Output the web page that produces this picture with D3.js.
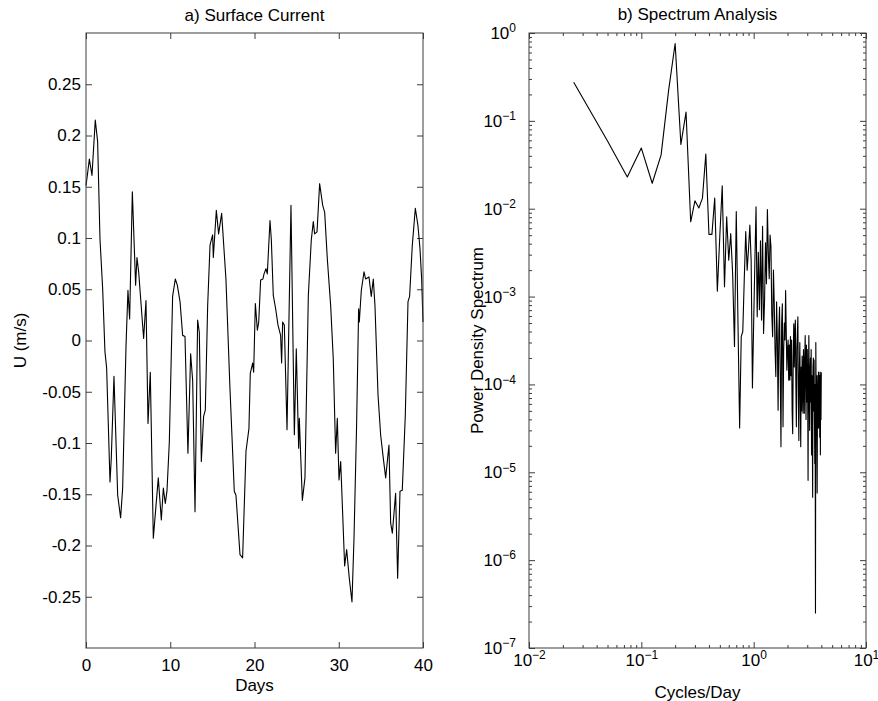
<!DOCTYPE html>
<html>
<head>
<meta charset="utf-8">
<script src="https://cdn.jsdelivr.net/npm/d3@7"></script>
<style>
  body { margin: 0; background: #fff; }
  svg { font-family: "Liberation Sans", Arial, Helvetica, sans-serif; }
  .frame { fill: none; stroke: #3c3c3c; stroke-width: 1; }
  .axis path { display: none; }
  .axis line { stroke: #3c3c3c; }
  .axis text { font-size: 17px; fill: #000; }
  .trace { fill: none; stroke: #000; stroke-width: 1.1; stroke-linejoin: round; }
  .title, .label { font-size: 17px; fill: #000; }
</style>
</head>
<body>
<script>

// a) surface current
var days = [0, 0.4, 0.71, 1.1, 1.38, 1.66, 1.98, 2.25, 2.45, 2.85,
  3.0, 3.32, 3.76, 4.11, 4.35, 4.75, 4.98, 5.18, 5.5, 5.89,
  6.05, 6.25, 6.84, 7.12, 7.36, 7.63, 7.99, 8.27, 8.58, 8.94,
  9.18, 9.41, 9.61, 9.89, 10.28, 10.6, 10.84, 11.16, 11.47, 11.75,
  12.1, 12.42, 12.66, 12.94, 13.25, 13.45, 13.69, 13.96, 14.16, 14.44,
  14.72, 15.03, 15.11, 15.47, 15.74, 16.1, 16.61, 17.09, 17.6, 17.8,
  18.28, 18.59, 18.99, 19.34, 19.5, 19.78, 19.9, 20.1, 20.34, 20.5,
  20.73, 21.0, 21.13, 21.36, 21.52, 21.84, 22.0, 22.23, 22.51, 22.79,
  23.1, 23.22, 23.34, 23.54, 23.86, 24.33, 24.73, 24.96, 25.24, 25.32,
  25.68, 25.99, 26.39, 26.74, 26.98, 27.14, 27.42, 27.73, 28.09, 28.33,
  28.64, 29.04, 29.35, 29.63, 29.83, 30.03, 30.23, 30.7, 30.94, 31.25,
  31.57, 31.81, 32.12, 32.36, 32.44, 32.68, 33.0, 33.19, 33.59, 33.86,
  34.1, 34.3, 34.66, 34.97, 35.29, 35.57, 35.96, 36.16, 36.36, 36.75,
  36.99, 37.27, 37.54, 37.9, 38.22, 38.41, 38.73, 39.09, 39.4, 39.64,
  39.84, 40.0];

var current = [0.151, 0.177, 0.161, 0.215, 0.194, 0.099, 0.05, -0.011, -0.027, -0.138,
  -0.115, -0.035, -0.151, -0.173, -0.144, -0.005, 0.049, 0.021, 0.145, 0.054,
  0.081, 0.067, 0.002, 0.039, -0.081, -0.031, -0.193, -0.165, -0.134, -0.175,
  -0.144, -0.159, -0.147, -0.099, 0.043, 0.060, 0.054, 0.038, 0.005, 0.004,
  -0.110, -0.013, -0.039, -0.167, 0.020, 0.008, -0.118, -0.074, -0.068, 0.034,
  0.093, 0.103, 0.081, 0.127, 0.104, 0.124, 0.060, -0.047, -0.147, -0.151,
  -0.209, -0.212, -0.108, -0.086, -0.032, -0.022, -0.031, 0.036, 0.010, 0.018,
  0.059, 0.060, 0.065, 0.070, 0.065, 0.117, 0.098, 0.044, 0.031, 0.015,
  0.005, -0.022, 0.018, 0.015, -0.087, 0.132, -0.092, -0.008, -0.105, -0.076,
  -0.156, -0.134, 0.044, 0.098, 0.116, 0.104, 0.106, 0.153, 0.132, 0.125,
  0.080, 0.034, -0.018, -0.110, -0.076, -0.136, -0.118, -0.220, -0.204, -0.232,
  -0.255, -0.193, -0.082, 0.031, 0.018, 0.049, 0.067, 0.060, 0.062, 0.043,
  0.060, 0.034, -0.053, -0.092, -0.115, -0.134, -0.102, -0.178, -0.188, -0.149,
  -0.232, -0.147, -0.146, -0.073, 0.038, 0.043, 0.093, 0.129, 0.112, 0.090,
  0.060, 0.018];

var dayTicks = [0, 10, 20, 30, 40];
var currentTicks = [-0.25, -0.2, -0.15, -0.1, -0.05, 0, 0.05, 0.1, 0.15, 0.2, 0.25];

// b) spectrum, one value per harmonic k/40 cycles/day (k = 1..160)
var recordDays = 40;
var power = [2.75e-1, 5.9e-2, 2.3e-2, 4.9e-2, 1.95e-2, 4.1e-2, 2.24e-1, 7.6e-1, 5.4e-2, 1.26e-1,
  7.1e-3, 1.23e-2, 1.02e-2, 1.32e-2, 4.2e-2, 5.1e-3, 5.1e-3, 1.32e-2, 1.15e-3, 5.0e-3,
  1.82e-2, 1.29e-3, 8.1e-3, 2.6e-3, 5.2e-3, 1.8e-3, 2.7e-4, 9.3e-3, 5.0e-4, 3.2e-5,
  3.5e-4, 4.0e-4, 1.6e-3, 5.5e-3, 2.0e-3, 3.5e-3, 6.5e-3, 2.5e-3, 9.1e-5, 5.0e-4,
  2.5e-3, 1.05e-2, 5.9e-4, 3.2e-3, 7.1e-4, 4.3e-3, 5.4e-4, 6.3e-3, 3.8e-4, 8.9e-4,
  4.1e-3, 1.4e-3, 9.8e-3, 3.2e-3, 1.6e-3, 5.0e-3, 3.7e-3, 6.3e-4, 3.5e-4, 2.0e-3,
  8.3e-4, 2.5e-4, 1.23e-4, 8.7e-4, 3.2e-4, 5.1e-5, 4.0e-4, 7.6e-4, 1.26e-4, 1.95e-5,
  5.0e-4, 8.3e-4, 3.3e-5, 2.5e-4, 5.0e-4, 3.2e-4, 1.17e-3, 4.0e-4, 1.45e-4, 2.5e-4,
  3.2e-4, 1.12e-4, 2.8e-4, 1.12e-4, 3.5e-4, 1.26e-4, 3.2e-4, 5.0e-5, 2.75e-5, 2.0e-4,
  4.9e-4, 1.58e-4, 4.0e-4, 5.4e-4, 1.0e-4, 3.3e-5, 2.5e-4, 4.0e-4, 5.9e-4, 6.3e-5,
  2.3e-5, 1.26e-4, 3.0e-4, 7.9e-5, 1.95e-5, 1.58e-4, 5.0e-5, 2.1e-4, 1.26e-4, 4.7e-5,
  2.5e-4, 1.58e-4, 4.7e-5, 2.0e-4, 3.6e-4, 1.0e-4, 4.0e-5, 2.8e-4, 6.3e-5, 2.5e-4,
  1.0e-4, 8.1e-6, 1.26e-4, 3.6e-4, 7.9e-5, 3.0e-5, 1.26e-4, 2.0e-4, 6.3e-5, 2.5e-4,
  1.58e-5, 1.26e-4, 4.0e-5, 5.2e-6, 1.58e-4, 2.0e-4, 5.0e-5, 1.9e-4, 5.0e-5, 1.26e-5,
  1.0e-4, 2.5e-7, 3.0e-4, 6.3e-5, 1.26e-4, 2.5e-5, 5.8e-6, 7.9e-5, 1.26e-4, 3.2e-5,
  1.38e-4, 3.2e-5, 5.0e-5, 1.26e-4, 2.5e-5, 1.38e-4, 1.58e-5, 1.26e-4, 4.0e-5, 1.38e-4];

var freqTicks = [1e-2, 1e-1, 1e0, 1e1];
var powerTicks = [1e-7, 1e-6, 1e-5, 1e-4, 1e-3, 1e-2, 1e-1, 1e0];

var width = 878, height = 701;
var panelW = 337, panelH = 615, tick = 6;

var svg = d3.select("body").append("svg")
    .attr("width", width)
    .attr("height", height);

function numLabel(d) { return String(+d.toFixed(2)); }

function decadeLabel(sel) {
  sel.selectAll(".tick text").each(function(d) {
    var e = Math.round(Math.log10(d));
    var t = d3.select(this).text("10");
    t.append("tspan")
        .attr("dy", "-0.55em")
        .style("font-size", "12px")
        .text(String(e).replace("-", "\u2212"));
  });
}

// ---- panel a ----
var ga = svg.append("g").attr("transform", "translate(86,33)");

var xa = d3.scaleLinear().domain([0, 40]).range([0, panelW]);
var ya = d3.scaleLinear().domain([-0.3, 0.3]).range([panelH, 0]);

ga.append("g").attr("class", "axis")
    .attr("transform", "translate(0," + panelH + ")")
    .call(d3.axisBottom(xa).tickValues(dayTicks).tickSizeInner(-tick).tickSizeOuter(0).tickPadding(11));
ga.append("g").attr("class", "axis")
    .call(d3.axisTop(xa).tickValues(dayTicks).tickSizeInner(-tick).tickSizeOuter(0).tickFormat(""));
ga.append("g").attr("class", "axis")
    .call(d3.axisLeft(ya).tickValues(currentTicks).tickSizeInner(-tick).tickSizeOuter(0).tickPadding(5).tickFormat(numLabel));
ga.append("g").attr("class", "axis")
    .attr("transform", "translate(" + panelW + ",0)")
    .call(d3.axisRight(ya).tickValues(currentTicks).tickSizeInner(-tick).tickSizeOuter(0).tickFormat(""));

var lineA = d3.line()
    .x(function(d, i) { return xa(days[i]); })
    .y(function(d) { return ya(d); });

ga.append("path").attr("class", "trace").attr("d", lineA(current));
ga.append("rect").attr("class", "frame").attr("width", panelW).attr("height", panelH);

ga.append("text").attr("class", "title")
    .attr("x", panelW / 2).attr("y", -12)
    .attr("text-anchor", "middle")
    .text("a) Surface Current");
ga.append("text").attr("class", "label")
    .attr("x", panelW / 2).attr("y", 658)
    .attr("text-anchor", "middle")
    .text("Days");
ga.append("text").attr("class", "label")
    .attr("transform", "translate(-60," + panelH / 2 + ") rotate(-90)")
    .attr("text-anchor", "middle")
    .text("U (m/s)");

// ---- panel b ----
var gb = svg.append("g").attr("transform", "translate(529,33)");

var xb = d3.scaleLog().domain([1e-2, 1e1]).range([0, panelW]);
var yb = d3.scaleLog().domain([1e-7, 1e0]).range([panelH, 0]);

var minorX = xb.ticks().filter(function(d) { return freqTicks.indexOf(d) < 0; });
var minorY = yb.ticks().filter(function(d) { return powerTicks.indexOf(d) < 0; });

gb.append("g").attr("class", "axis")
    .attr("transform", "translate(0," + panelH + ")")
    .call(d3.axisBottom(xb).tickValues(freqTicks).tickSizeInner(-tick).tickSizeOuter(0).tickPadding(6))
    .call(decadeLabel);
gb.append("g").attr("class", "axis")
    .attr("transform", "translate(0," + panelH + ")")
    .call(d3.axisBottom(xb).tickValues(minorX).tickSizeInner(-3).tickSizeOuter(0).tickFormat(""));
gb.append("g").attr("class", "axis")
    .call(d3.axisTop(xb).tickValues(freqTicks).tickSizeInner(-tick).tickSizeOuter(0).tickFormat(""));
gb.append("g").attr("class", "axis")
    .call(d3.axisTop(xb).tickValues(minorX).tickSizeInner(-3).tickSizeOuter(0).tickFormat(""));

gb.append("g").attr("class", "axis")
    .call(d3.axisLeft(yb).tickValues(powerTicks).tickSizeInner(-tick).tickSizeOuter(0).tickPadding(13))
    .call(decadeLabel);
gb.append("g").attr("class", "axis")
    .call(d3.axisLeft(yb).tickValues(minorY).tickSizeInner(-3).tickSizeOuter(0).tickFormat(""));
gb.append("g").attr("class", "axis")
    .attr("transform", "translate(" + panelW + ",0)")
    .call(d3.axisRight(yb).tickValues(powerTicks).tickSizeInner(-tick).tickSizeOuter(0).tickFormat(""));
gb.append("g").attr("class", "axis")
    .attr("transform", "translate(" + panelW + ",0)")
    .call(d3.axisRight(yb).tickValues(minorY).tickSizeInner(-3).tickSizeOuter(0).tickFormat(""));

var lineB = d3.line()
    .x(function(d, i) { return xb((i + 1) / recordDays); })
    .y(function(d) { return yb(d); });

gb.append("path").attr("class", "trace").attr("d", lineB(power));
gb.append("rect").attr("class", "frame").attr("width", panelW).attr("height", panelH);

gb.append("text").attr("class", "title")
    .attr("x", panelW / 2).attr("y", -13)
    .attr("text-anchor", "middle")
    .text("b) Spectrum Analysis");
gb.append("text").attr("class", "label")
    .attr("x", panelW / 2).attr("y", 665)
    .attr("text-anchor", "middle")
    .text("Cycles/Day");
gb.append("text").attr("class", "label")
    .attr("transform", "translate(-46," + panelH / 2 + ") rotate(-90)")
    .attr("text-anchor", "middle")
    .text("Power Density Spectrum");

</script>
</body>
</html>
